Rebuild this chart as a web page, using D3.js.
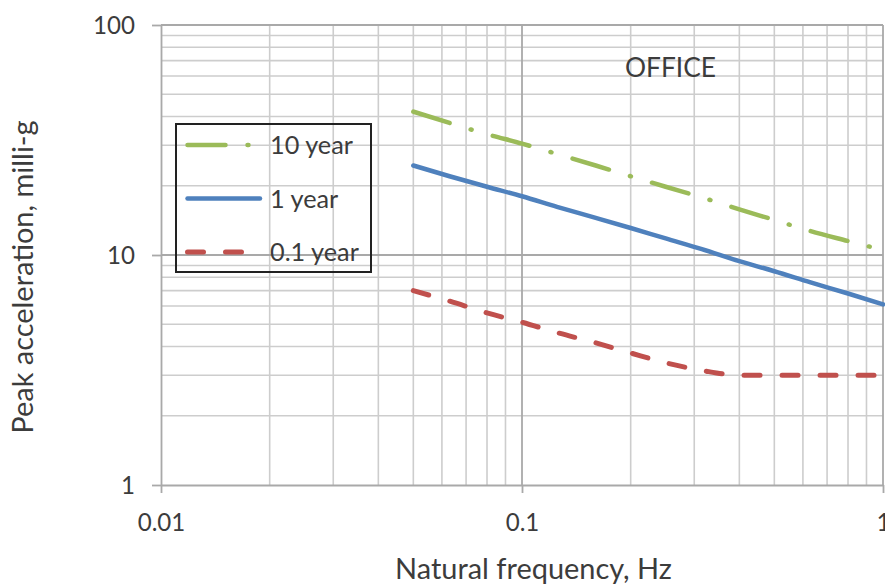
<!DOCTYPE html>
<html>
<head>
<meta charset="utf-8">
<script src="https://cdn.jsdelivr.net/npm/d3@7"></script>
<style>
  html, body { margin: 0; padding: 0; background: #fff; }
  svg { display: block; font-family: Lato, "Open Sans", sans-serif; }
</style>
</head>
<body>
<svg id="chart" width="885" height="587"></svg>
<script>
// Natural frequency (Hz) at which the curves are evaluated
const freq = [0.05, 0.063, 0.08, 0.1, 0.125, 0.16, 0.2, 0.25, 0.315, 0.4, 0.5, 0.63, 0.8, 1];
// Peak acceleration (milli-g) per return period
const tenYear      = [42, 37.5, 33.5, 30.5, 27.5, 24.5, 22, 19.8, 17.8, 15.8, 14.2, 12.7, 11.5, 10.5];
const oneYear      = [24.5, 22, 19.8, 18, 16.2, 14.5, 13.1, 11.8, 10.6, 9.4, 8.5, 7.6, 6.8, 6.1];
const tenthYear    = [7.0, 6.3, 5.6, 5.1, 4.6, 4.15, 3.75, 3.4, 3.15, 3.0, 3.0, 3.0, 3.0, 3.0];
const seriesNames  = ["10 year", "1 year", "0.1 year"];

// Axis ticks
const xTickValues = [0.01, 0.1, 1];
const xTickLabels = ["0.01", "0.1", "1"];
const yTickValues = [1, 10, 100];
const yTickLabels = ["1", "10", "100"];
const xMinor = [0.02,0.03,0.04,0.05,0.06,0.07,0.08,0.09,0.2,0.3,0.4,0.5,0.6,0.7,0.8,0.9];
const yMinor = [2,3,4,5,6,7,8,9,20,30,40,50,60,70,80,90];

const svg = d3.select("#chart");
const plotLeft = 161, plotRight = 883, plotTop = 25, plotBottom = 485;

const x = d3.scaleLog().domain([0.01, 1]).range([plotLeft, plotRight]);
const y = d3.scaleLog().domain([1, 100]).range([plotBottom, plotTop]);

const textColor = "#3c3c3c";

// Grid
const grid = svg.append("g");
grid.selectAll(".vmin").data(xMinor).join("line")
  .attr("x1", d => x(d)).attr("x2", d => x(d))
  .attr("y1", plotTop).attr("y2", plotBottom)
  .attr("stroke", "#cdcdcd").attr("stroke-width", 1.6);
grid.selectAll(".hmin").data(yMinor).join("line")
  .attr("x1", plotLeft).attr("x2", plotRight)
  .attr("y1", d => y(d)).attr("y2", d => y(d))
  .attr("stroke", "#cdcdcd").attr("stroke-width", 1.6);
grid.selectAll(".vmaj").data(xTickValues.slice(1)).join("line")
  .attr("x1", d => x(d)).attr("x2", d => x(d))
  .attr("y1", plotTop).attr("y2", plotBottom)
  .attr("stroke", "#a9a9a9").attr("stroke-width", 1.8);
grid.selectAll(".hmaj").data(yTickValues.slice(1)).join("line")
  .attr("x1", plotLeft).attr("x2", plotRight)
  .attr("y1", d => y(d)).attr("y2", d => y(d))
  .attr("stroke", "#a9a9a9").attr("stroke-width", 1.8);

// Axes
const xAxis = d3.axisBottom(x).tickValues(xTickValues)
  .tickFormat((d, i) => xTickLabels[i]).tickSize(8).tickSizeOuter(0);
const yAxis = d3.axisLeft(y).tickValues(yTickValues)
  .tickFormat((d, i) => yTickLabels[i]).tickSize(9).tickSizeOuter(0);

const gx = svg.append("g").attr("transform", `translate(0,${plotBottom})`).call(xAxis);
const gy = svg.append("g").attr("transform", `translate(${plotLeft},0)`).call(yAxis);
[gx, gy].forEach(g => {
  g.select(".domain").attr("stroke", "#a9a9a9").attr("stroke-width", 1.8);
  g.selectAll(".tick line").attr("stroke", "#a9a9a9").attr("stroke-width", 1.8);
  g.selectAll("text").attr("fill", textColor).attr("font-family", "Lato, sans-serif");
});
gx.selectAll("text").attr("y", 37).attr("dy", "0.36em");
gy.selectAll("text").attr("x", -26).attr("dy", "0.36em");

// Scale a text element's font so its width equals the target
function fitWidth(sel, target) {
  sel.attr("font-size", 20);
  const w = sel.node().getComputedTextLength();
  sel.attr("font-size", 20 * target / w);
  return 20 * target / w;
}
const tickSize = fitWidth(gy.selectAll("text").filter((d, i) => i === 2), 42);
gx.selectAll("text").attr("font-size", tickSize);
gy.selectAll("text").attr("font-size", tickSize);

// Series
const series = [
  { name: seriesNames[0], values: tenYear, color: "#9bbb59", width: 4.5, dash: "38,22,1,22" },
  { name: seriesNames[1], values: oneYear, color: "#4f81bd", width: 4.5, dash: null },
  { name: seriesNames[2], values: tenthYear, color: "#c0504d", width: 5, dash: "16,22" }
];
const line = d3.line().x(d => x(d[0])).y(d => y(d[1])).curve(d3.curveMonotoneX);
svg.append("g").selectAll("path").data(series).join("path")
  .attr("d", s => line(freq.map((f, i) => [f, s.values[i]])))
  .attr("fill", "none")
  .attr("stroke", s => s.color)
  .attr("stroke-width", s => s.width)
  .attr("stroke-linecap", "round")
  .attr("stroke-linejoin", "round")
  .attr("stroke-dasharray", s => s.dash);

// Legend
const legend = svg.append("g");
legend.append("rect")
  .attr("x", 176).attr("y", 124).attr("width", 195).attr("height", 148)
  .attr("fill", "none").attr("stroke", "#222").attr("stroke-width", 2);
const legendRows = [145, 198.5, 252];
const legendEnds = [250, 260, 245];
const items = legend.selectAll("g.item").data(series).join("g").attr("class", "item");
items.append("line")
  .attr("x1", 187.5).attr("x2", (d, i) => legendEnds[i])
  .attr("y1", (d, i) => legendRows[i]).attr("y2", (d, i) => legendRows[i])
  .attr("stroke", d => d.color).attr("stroke-width", d => d.width)
  .attr("stroke-linecap", "round").attr("stroke-dasharray", d => d.dash);
const legendText = items.append("text")
  .attr("x", 270).attr("y", (d, i) => legendRows[i]).attr("dy", "0.36em")
  .attr("fill", textColor).text(d => d.name);
const legendSize = fitWidth(legendText.filter((d, i) => i === 0), 83);
legendText.attr("font-size", legendSize);

// Annotation
const office = svg.append("text").attr("x", 625).attr("y", 68).attr("dy", "0.36em")
  .attr("fill", textColor).text("OFFICE");
fitWidth(office, 91);

// Axis titles
const xTitle = svg.append("text").attr("x", 533.5).attr("y", 579)
  .attr("text-anchor", "middle").attr("fill", textColor).text("Natural frequency, Hz");
const titleSize = fitWidth(xTitle, 277);
svg.append("text").attr("transform", "translate(33,277) rotate(-90)")
  .attr("text-anchor", "middle").attr("fill", textColor).attr("font-size", titleSize)
  .text("Peak acceleration, milli-g");
</script>
</body>
</html>
